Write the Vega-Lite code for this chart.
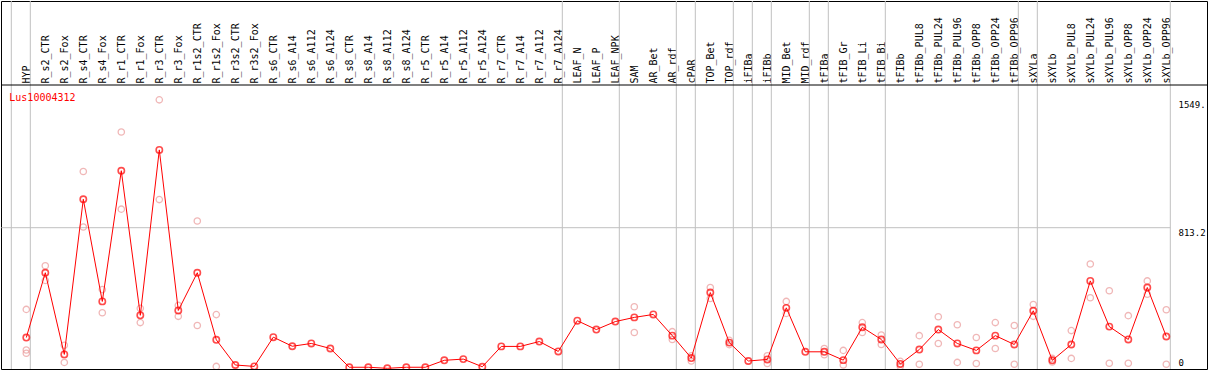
{
  "$schema": "https://vega.github.io/schema/vega-lite/v6.json",
  "width": 1206,
  "height": 368,
  "autosize": "none",
  "padding": {"left": 1, "top": 1, "right": 2, "bottom": 1},
  "background": "white",
  "config": {"view": {"stroke": "black", "strokeWidth": 1}},
  "datasets": {
    "means": [
      {"i": 0, "sample": "HYP", "value": 181},
      {"i": 1, "sample": "R_s2_CTR", "value": 554},
      {"i": 2, "sample": "R_s2_Fox", "value": 84},
      {"i": 3, "sample": "R_s4_CTR", "value": 977},
      {"i": 4, "sample": "R_s4_Fox", "value": 389},
      {"i": 5, "sample": "R_r1_CTR", "value": 1141},
      {"i": 6, "sample": "R_r1_Fox", "value": 309},
      {"i": 7, "sample": "R_r3_CTR", "value": 1261},
      {"i": 8, "sample": "R_r3_Fox", "value": 337},
      {"i": 9, "sample": "R_r1s2_CTR", "value": 554},
      {"i": 10, "sample": "R_r1s2_Fox", "value": 168},
      {"i": 11, "sample": "R_r3s2_CTR", "value": 23},
      {"i": 12, "sample": "R_r3s2_Fox", "value": 15},
      {"i": 13, "sample": "R_s6_CTR", "value": 183},
      {"i": 14, "sample": "R_s6_A14", "value": 131},
      {"i": 15, "sample": "R_s6_A112", "value": 147},
      {"i": 16, "sample": "R_s6_A124", "value": 118},
      {"i": 17, "sample": "R_s8_CTR", "value": 10},
      {"i": 18, "sample": "R_s8_A14", "value": 10},
      {"i": 19, "sample": "R_s8_A112", "value": 4},
      {"i": 20, "sample": "R_s8_A124", "value": 10},
      {"i": 21, "sample": "R_r5_CTR", "value": 10},
      {"i": 22, "sample": "R_r5_A14", "value": 50},
      {"i": 23, "sample": "R_r5_A112", "value": 57},
      {"i": 24, "sample": "R_r5_A124", "value": 13},
      {"i": 25, "sample": "R_r7_CTR", "value": 130},
      {"i": 26, "sample": "R_r7_A14", "value": 130},
      {"i": 27, "sample": "R_r7_A112", "value": 158},
      {"i": 28, "sample": "R_r7_A124", "value": 101},
      {"i": 29, "sample": "LEAF_N", "value": 278},
      {"i": 30, "sample": "LEAF_P", "value": 227},
      {"i": 31, "sample": "LEAF_NPK", "value": 273},
      {"i": 32, "sample": "SAM", "value": 297},
      {"i": 33, "sample": "AR_Bet", "value": 314},
      {"i": 34, "sample": "AR_rdf", "value": 192},
      {"i": 35, "sample": "cPAR", "value": 63},
      {"i": 36, "sample": "TOP_Bet", "value": 440},
      {"i": 37, "sample": "TOP_rdf", "value": 152},
      {"i": 38, "sample": "iFIBa", "value": 46},
      {"i": 39, "sample": "iFIBb", "value": 55},
      {"i": 40, "sample": "MID_Bet", "value": 352},
      {"i": 41, "sample": "MID_rdf", "value": 99},
      {"i": 42, "sample": "tFIBa", "value": 99},
      {"i": 43, "sample": "tFIB_Gr", "value": 51},
      {"i": 44, "sample": "tFIB_Li", "value": 240},
      {"i": 45, "sample": "tFIB_Bi", "value": 170},
      {"i": 46, "sample": "tFIBb", "value": 29},
      {"i": 47, "sample": "tFIBb_PUL8", "value": 112},
      {"i": 48, "sample": "tFIBb_PUL24", "value": 227},
      {"i": 49, "sample": "tFIBb_PUL96", "value": 147},
      {"i": 50, "sample": "tFIBb_OPP8", "value": 107},
      {"i": 51, "sample": "tFIBb_OPP24", "value": 192},
      {"i": 52, "sample": "tFIBb_OPP96", "value": 141},
      {"i": 53, "sample": "sXYLa", "value": 335},
      {"i": 54, "sample": "sXYLb", "value": 50},
      {"i": 55, "sample": "sXYLb_PUL8", "value": 141},
      {"i": 56, "sample": "sXYLb_PUL24", "value": 507},
      {"i": 57, "sample": "sXYLb_PUL96", "value": 244},
      {"i": 58, "sample": "sXYLb_OPP8", "value": 170},
      {"i": 59, "sample": "sXYLb_OPP24", "value": 469},
      {"i": 60, "sample": "sXYLb_OPP96", "value": 187}
    ],
    "reps": [
      {"sample": "HYP", "value": 343}, {"sample": "HYP", "value": 109}, {"sample": "HYP", "value": 91},
      {"sample": "R_s2_CTR", "value": 594}, {"sample": "R_s2_CTR", "value": 510},
      {"sample": "R_s2_Fox", "value": 137}, {"sample": "R_s2_Fox", "value": 38},
      {"sample": "R_s4_CTR", "value": 1137}, {"sample": "R_s4_CTR", "value": 817},
      {"sample": "R_s4_Fox", "value": 457}, {"sample": "R_s4_Fox", "value": 324},
      {"sample": "R_r1_CTR", "value": 1364}, {"sample": "R_r1_CTR", "value": 920},
      {"sample": "R_r1_Fox", "value": 349}, {"sample": "R_r1_Fox", "value": 267},
      {"sample": "R_r3_CTR", "value": 1549}, {"sample": "R_r3_CTR", "value": 975},
      {"sample": "R_r3_Fox", "value": 366}, {"sample": "R_r3_Fox", "value": 303},
      {"sample": "R_r1s2_CTR", "value": 852}, {"sample": "R_r1s2_CTR", "value": 250},
      {"sample": "R_r1s2_Fox", "value": 313}, {"sample": "R_r1s2_Fox", "value": 15},
      {"sample": "SAM", "value": 358}, {"sample": "SAM", "value": 210},
      {"sample": "AR_rdf", "value": 215}, {"sample": "AR_rdf", "value": 170},
      {"sample": "cPAR", "value": 76}, {"sample": "cPAR", "value": 46},
      {"sample": "TOP_Bet", "value": 469}, {"sample": "TOP_Bet", "value": 406},
      {"sample": "TOP_rdf", "value": 165}, {"sample": "TOP_rdf", "value": 140},
      {"sample": "iFIBb", "value": 76}, {"sample": "iFIBb", "value": 32},
      {"sample": "MID_Bet", "value": 389}, {"sample": "MID_Bet", "value": 320},
      {"sample": "tFIBa", "value": 118}, {"sample": "tFIBa", "value": 82},
      {"sample": "tFIB_Gr", "value": 107}, {"sample": "tFIB_Gr", "value": 23},
      {"sample": "tFIB_Li", "value": 267}, {"sample": "tFIB_Li", "value": 210},
      {"sample": "tFIB_Bi", "value": 196}, {"sample": "tFIB_Bi", "value": 141},
      {"sample": "tFIBb", "value": 44}, {"sample": "tFIBb", "value": 15},
      {"sample": "tFIBb_PUL8", "value": 192}, {"sample": "tFIBb_PUL8", "value": 27},
      {"sample": "tFIBb_PUL24", "value": 301}, {"sample": "tFIBb_PUL24", "value": 147},
      {"sample": "tFIBb_PUL96", "value": 255}, {"sample": "tFIBb_PUL96", "value": 38},
      {"sample": "tFIBb_OPP8", "value": 181}, {"sample": "tFIBb_OPP8", "value": 32},
      {"sample": "tFIBb_OPP24", "value": 267}, {"sample": "tFIBb_OPP24", "value": 118},
      {"sample": "tFIBb_OPP96", "value": 250}, {"sample": "tFIBb_OPP96", "value": 27},
      {"sample": "sXYLa", "value": 371}, {"sample": "sXYLa", "value": 303},
      {"sample": "sXYLb", "value": 61}, {"sample": "sXYLb", "value": 40},
      {"sample": "sXYLb_PUL8", "value": 221}, {"sample": "sXYLb_PUL8", "value": 61},
      {"sample": "sXYLb_PUL24", "value": 604}, {"sample": "sXYLb_PUL24", "value": 410},
      {"sample": "sXYLb_PUL96", "value": 450}, {"sample": "sXYLb_PUL96", "value": 33},
      {"sample": "sXYLb_OPP8", "value": 307}, {"sample": "sXYLb_OPP8", "value": 33},
      {"sample": "sXYLb_OPP24", "value": 507}, {"sample": "sXYLb_OPP24", "value": 430},
      {"sample": "sXYLb_OPP96", "value": 341}, {"sample": "sXYLb_OPP96", "value": 27}
    ],
    "groups": [
      {"sample": "HYP"}, {"sample": "R_s2_CTR"}, {"sample": "LEAF_N"}, {"sample": "SAM"},
      {"sample": "cPAR"}, {"sample": "TOP_Bet"}, {"sample": "iFIBa"}, {"sample": "iFIBb"},
      {"sample": "MID_Bet"}, {"sample": "tFIBa"}, {"sample": "tFIB_Gr"}, {"sample": "tFIBb"},
      {"sample": "sXYLa"}, {"sample": "sXYLb"}
    ],
    "one": [{"gene": "Lus10004312"}]
  },
  "layer": [
    {
      "data": {"name": "means"},
      "mark": {"type": "point", "shape": "circle", "filled": false, "stroke": "#ff0000", "strokeWidth": 1.6, "size": 40, "clip": true, "opacity": 0},
      "encoding": {
        "x": {"field": "sample", "type": "nominal",
              "scale": {"type": "point", "range": [25.3, 1165.3], "padding": 0, "domain": ["HYP","R_s2_CTR","R_s2_Fox","R_s4_CTR","R_s4_Fox","R_r1_CTR","R_r1_Fox","R_r3_CTR","R_r3_Fox","R_r1s2_CTR","R_r1s2_Fox","R_r3s2_CTR","R_r3s2_Fox","R_s6_CTR","R_s6_A14","R_s6_A112","R_s6_A124","R_s8_CTR","R_s8_A14","R_s8_A112","R_s8_A124","R_r5_CTR","R_r5_A14","R_r5_A112","R_r5_A124","R_r7_CTR","R_r7_A14","R_r7_A112","R_r7_A124","LEAF_N","LEAF_P","LEAF_NPK","SAM","AR_Bet","AR_rdf","cPAR","TOP_Bet","TOP_rdf","iFIBa","iFIBb","MID_Bet","MID_rdf","tFIBa","tFIB_Gr","tFIB_Li","tFIB_Bi","tFIBb","tFIBb_PUL8","tFIBb_PUL24","tFIBb_PUL96","tFIBb_OPP8","tFIBb_OPP24","tFIBb_OPP96","sXYLa","sXYLb","sXYLb_PUL8","sXYLb_PUL24","sXYLb_PUL96","sXYLb_OPP8","sXYLb_OPP24","sXYLb_OPP96"]},
              "axis": {"orient": "top", "offset": -84, "title": null, "labelAngle": 270, "labelAlign": "left", "labelBaseline": "middle", "labelPadding": 2, "ticks": false, "domain": false, "grid": false, "labelFont": "DejaVu Sans Mono", "labelFontSize": 10, "labelColor": "black", "labelOverlap": false, "labelLimit": 200}},
        "y": {"field": "value", "type": "quantitative",
              "scale": {"domain": [0, 2117.9], "nice": false, "zero": false},
              "axis": {"orient": "right", "offset": -31, "values": [0, 813.2, 1549], "labelExpr": "datum.value == 0 ? '0' : datum.value == 813.2 ? '813.2' : '1549.'", "grid": false, "ticks": false, "domain": false, "title": null, "labelFont": "DejaVu Sans Mono", "labelFontSize": 9, "labelColor": "black", "labelPadding": 2, "labelAlign": "left",
                       "labelBaseline": {"condition": {"test": "datum.value == 0", "value": "bottom"}, "value": "top"},
                       "labelOffset": {"condition": {"test": "datum.value == 0", "value": -2}, "value": 1},
                       "labelFlush": false, "labelOverlap": false}}
      }
    },
    {
      "data": {"name": "groups"},
      "mark": {"type": "rule", "color": "#c0c0c0", "strokeWidth": 1, "xOffset": -15},
      "encoding": {
        "x": {"field": "sample", "type": "nominal"}
      }
    },
    {
      "data": {"name": "one"},
      "mark": {"type": "rule", "color": "#c0c0c0", "strokeWidth": 1, "xOffset": 4},
      "encoding": {
        "x": {"datum": "sXYLb_OPP96", "type": "nominal"}
      }
    },
    {
      "data": {"name": "one"},
      "mark": {"type": "rule", "color": "#c0c0c0", "strokeWidth": 1, "xOffset": -25, "x2Offset": 4},
      "encoding": {
        "x": {"datum": "HYP", "type": "nominal"},
        "x2": {"datum": "sXYLb_OPP96"},
        "y": {"datum": 813.2, "type": "quantitative"}
      }
    },
    {
      "data": {"name": "one"},
      "mark": {"type": "rule", "color": "black", "strokeWidth": 1},
      "encoding": {
        "y": {"datum": 1634.4, "type": "quantitative"}
      }
    },
    {
      "data": {"name": "reps"},
      "mark": {"type": "point", "shape": "circle", "filled": false, "stroke": "#eb9a9a", "strokeWidth": 1.3, "size": 40, "clip": true},
      "encoding": {
        "x": {"field": "sample", "type": "nominal"},
        "y": {"field": "value", "type": "quantitative"}
      }
    },
    {
      "data": {"name": "means"},
      "mark": {"type": "line", "color": "#ff0000", "strokeWidth": 1, "clip": true},
      "encoding": {
        "x": {"field": "sample", "type": "nominal"},
        "y": {"field": "value", "type": "quantitative"},
        "order": {"field": "i", "type": "quantitative"}
      }
    },
    {
      "data": {"name": "means"},
      "mark": {"type": "point", "shape": "circle", "filled": false, "stroke": "#ff0000", "strokeWidth": 1.6, "size": 40, "clip": true},
      "encoding": {
        "x": {"field": "sample", "type": "nominal"},
        "y": {"field": "value", "type": "quantitative"}
      }
    },
    {
      "data": {"name": "one"},
      "mark": {"type": "text", "color": "#ff0000", "font": "DejaVu Sans Mono", "fontSize": 10, "align": "left", "baseline": "alphabetic", "xOffset": -17, "dy": 1},
      "encoding": {
        "x": {"datum": "HYP", "type": "nominal"},
        "y": {"datum": 1549, "type": "quantitative"},
        "text": {"field": "gene"}
      }
    }
  ]
}
